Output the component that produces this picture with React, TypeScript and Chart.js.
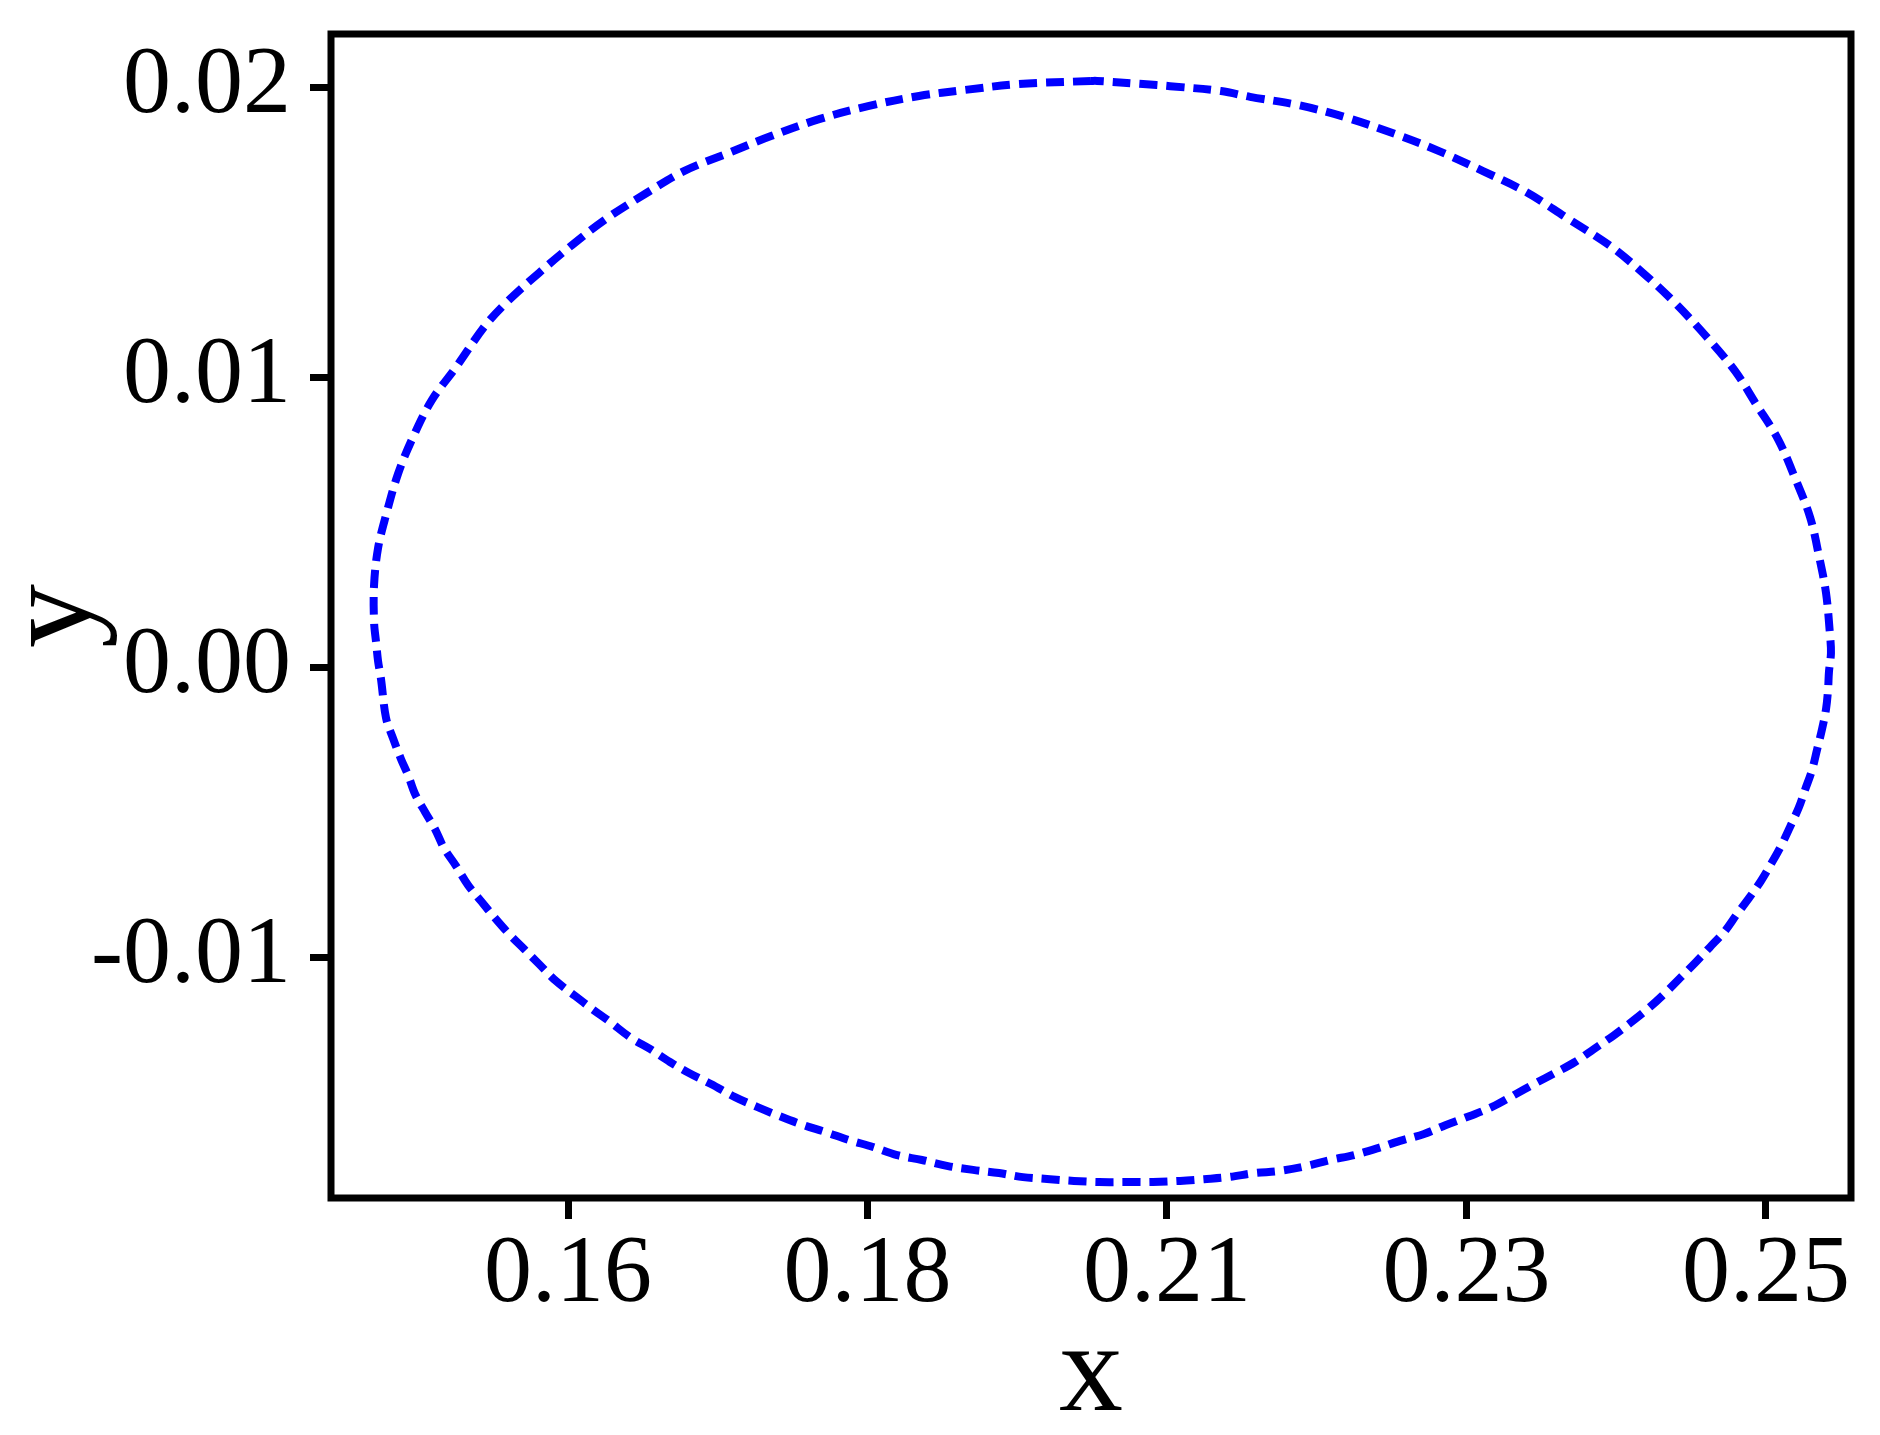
import React, { useEffect, useRef } from "react";
import { Chart, registerables } from "chart.js";

Chart.register(...registerables);

// Closed orbit (x, y pairs in data units)
const curveX: number[] = [
  0.19929, 0.19388, 0.18982, 0.18637, 0.18254, 0.17893, 0.17525, 0.17202, 0.16871, 0.16578,
  0.16285, 0.16030, 0.15782, 0.15542, 0.15376, 0.15159, 0.14978, 0.14836, 0.14723, 0.14633,
  0.14573, 0.14543, 0.14543, 0.14558, 0.14573, 0.14595, 0.14633, 0.14685, 0.14745, 0.14798,
  0.14851, 0.14926, 0.15001, 0.15068, 0.15159, 0.15249, 0.15346, 0.15452, 0.15564, 0.15669,
  0.15782, 0.15910, 0.16053, 0.16180, 0.16308, 0.16473, 0.16616, 0.16766, 0.16909, 0.17074,
  0.17255, 0.17420, 0.17585, 0.17765, 0.17931, 0.18111, 0.18291, 0.18472, 0.18659, 0.18855,
  0.19043, 0.19238, 0.19418, 0.19621, 0.19801, 0.19989, 0.20215, 0.20395, 0.20598, 0.20778,
  0.20958, 0.21161, 0.21341, 0.21544, 0.21725, 0.21905, 0.22085, 0.22250, 0.22431, 0.22596,
  0.22776, 0.22942, 0.23107, 0.23257, 0.23415, 0.23565, 0.23708, 0.23851, 0.23978, 0.24129,
  0.24234, 0.24362, 0.24474, 0.24579, 0.24692, 0.24782, 0.24872, 0.24962, 0.25038, 0.25113,
  0.25180, 0.25248, 0.25293, 0.25346, 0.25383, 0.25421, 0.25451, 0.25466, 0.25473, 0.25488,
  0.25481, 0.25451, 0.25398, 0.25331, 0.25218, 0.25090, 0.24925, 0.24767, 0.24549, 0.24309,
  0.24076, 0.23821, 0.23505, 0.23197, 0.22874, 0.22544, 0.22213, 0.21830, 0.21484, 0.21124,
  0.20906, 0.20523, 0.20320, 0.19974, 0.19929,
];
const curveY: number[] = [
  0.02021, 0.02010, 0.01990, 0.01969, 0.01934, 0.01890, 0.01831, 0.01772, 0.01710, 0.01631,
  0.01545, 0.01455, 0.01359, 0.01259, 0.01176, 0.01034, 0.00921, 0.00793, 0.00666, 0.00524,
  0.00410, 0.00283, 0.00155, 0.00086, 0.00021, -0.00041, -0.00176, -0.00245, -0.00317, -0.00372,
  -0.00438, -0.00500, -0.00559, -0.00624, -0.00686, -0.00752, -0.00807, -0.00866, -0.00924, -0.00972,
  -0.01024, -0.01083, -0.01134, -0.01179, -0.01221, -0.01279, -0.01317, -0.01362, -0.01400, -0.01438,
  -0.01483, -0.01517, -0.01548, -0.01579, -0.01603, -0.01631, -0.01655, -0.01683, -0.01700, -0.01721,
  -0.01734, -0.01745, -0.01759, -0.01766, -0.01772, -0.01776, -0.01776, -0.01776, -0.01772, -0.01766,
  -0.01759, -0.01745, -0.01738, -0.01721, -0.01700, -0.01683, -0.01659, -0.01634, -0.01610, -0.01579,
  -0.01548, -0.01517, -0.01476, -0.01438, -0.01400, -0.01362, -0.01317, -0.01272, -0.01228, -0.01172,
  -0.01128, -0.01069, -0.01017, -0.00966, -0.00910, -0.00852, -0.00797, -0.00738, -0.00679, -0.00617,
  -0.00552, -0.00483, -0.00424, -0.00355, -0.00286, -0.00214, -0.00145, -0.00079, -0.00017, 0.00048,
  0.00110, 0.00255, 0.00383, 0.00517, 0.00652, 0.00786, 0.00907, 0.01021, 0.01141, 0.01259,
  0.01359, 0.01455, 0.01548, 0.01638, 0.01710, 0.01779, 0.01838, 0.01897, 0.01938, 0.01966,
  0.01986, 0.02003, 0.02010, 0.02021, 0.02021,
];

const xTickValues: number[] = [0.16, 0.1825, 0.205, 0.2275, 0.25];
const xTickLabels: string[] = ["0.16", "0.18", "0.21", "0.23", "0.25"];
const yTickValues: number[] = [-0.01, 0, 0.01, 0.02];
const yTickLabels: string[] = ["-0.01", "0.00", "0.01", "0.02"];

const X_MIN = 0.142195;
const X_MAX = 0.256386;
const Y_MIN = -0.01831;
const Y_MAX = 0.021828;

const FONT = "'Liberation Serif', 'Times New Roman', serif";

const framePlugin = {
  id: "frame",
  afterDraw(chart: any) {
    const { ctx, chartArea } = chart;
    ctx.save();
    ctx.strokeStyle = "#000";
    ctx.lineWidth = 7;
    ctx.strokeRect(
      chartArea.left,
      chartArea.top,
      chartArea.right - chartArea.left,
      chartArea.bottom - chartArea.top
    );
    ctx.restore();
  },
};

export default function App() {
  const ref = useRef<HTMLCanvasElement | null>(null);

  useEffect(() => {
    document.body.style.margin = "0";
    const canvas = ref.current;
    if (!canvas) return;
    const points = curveX.map((x, i) => ({ x, y: curveY[i] }));
    const chart = new Chart(canvas, {
      type: "scatter",
      data: {
        datasets: [
          {
            data: points,
            showLine: true,
            borderColor: "#0000FF",
            backgroundColor: "#0000FF",
            borderWidth: 8,
            borderDash: [18, 9],
            pointRadius: 0,
            tension: 0.35,
            fill: false,
          },
        ],
      },
      options: {
        responsive: false,
        animation: false,
        devicePixelRatio: 1,
        layout: { padding: { top: 34, right: 29, left: 0, bottom: 0 } },
        plugins: { legend: { display: false }, tooltip: { enabled: false } },
        scales: {
          x: {
            type: "linear",
            min: X_MIN,
            max: X_MAX,
            afterFit(scale: any) {
              scale.height = 237;
              scale.paddingLeft = 0;
              scale.paddingRight = 0;
              scale.paddingTop = 0;
              scale.paddingBottom = 0;
            },
            afterBuildTicks(scale: any) {
              scale.ticks = xTickValues.map((v) => ({ value: v }));
            },
            border: { display: false },
            grid: {
              drawOnChartArea: false,
              drawTicks: true,
              tickLength: 21,
              tickWidth: 7,
              tickColor: "#000",
              color: "#000",
            },
            ticks: {
              autoSkip: false,
              maxRotation: 0,
              padding: 9,
              color: "#000",
              font: { family: FONT, size: 96, lineHeight: 1 },
              callback: (_v: any, i: number) => xTickLabels[i],
            },
            title: {
              display: true,
              text: "x",
              color: "#000",
              font: { family: FONT, size: 128, lineHeight: 0.7 },
              padding: { top: 0, bottom: 14 },
            },
          },
          y: {
            type: "linear",
            min: Y_MIN,
            max: Y_MAX,
            afterFit(scale: any) {
              scale.width = 331;
              scale.paddingLeft = 0;
              scale.paddingRight = 0;
              scale.paddingTop = 0;
              scale.paddingBottom = 0;
            },
            afterBuildTicks(scale: any) {
              scale.ticks = yTickValues.map((v) => ({ value: v }));
            },
            border: { display: false },
            grid: {
              drawOnChartArea: false,
              drawTicks: true,
              tickLength: 21,
              tickWidth: 7,
              tickColor: "#000",
              color: "#000",
            },
            ticks: {
              autoSkip: false,
              padding: 19,
              color: "#000",
              font: { family: FONT, size: 96, lineHeight: 1 },
              callback: (_v: any, i: number) => yTickLabels[i],
            },
            title: {
              display: true,
              text: "y",
              color: "#000",
              font: { family: FONT, size: 128, lineHeight: 0.7 },
              padding: { top: 12, bottom: 0 },
            },
          },
        },
      },
      plugins: [framePlugin],
    });
    return () => chart.destroy();
  }, []);

  return (
    <div
      style={{
        position: "fixed",
        left: 0,
        top: 0,
        width: 1880,
        height: 1435,
        background: "#fff",
      }}
    >
      <canvas ref={ref} width={1880} height={1435} style={{ display: "block" }} />
    </div>
  );
}
